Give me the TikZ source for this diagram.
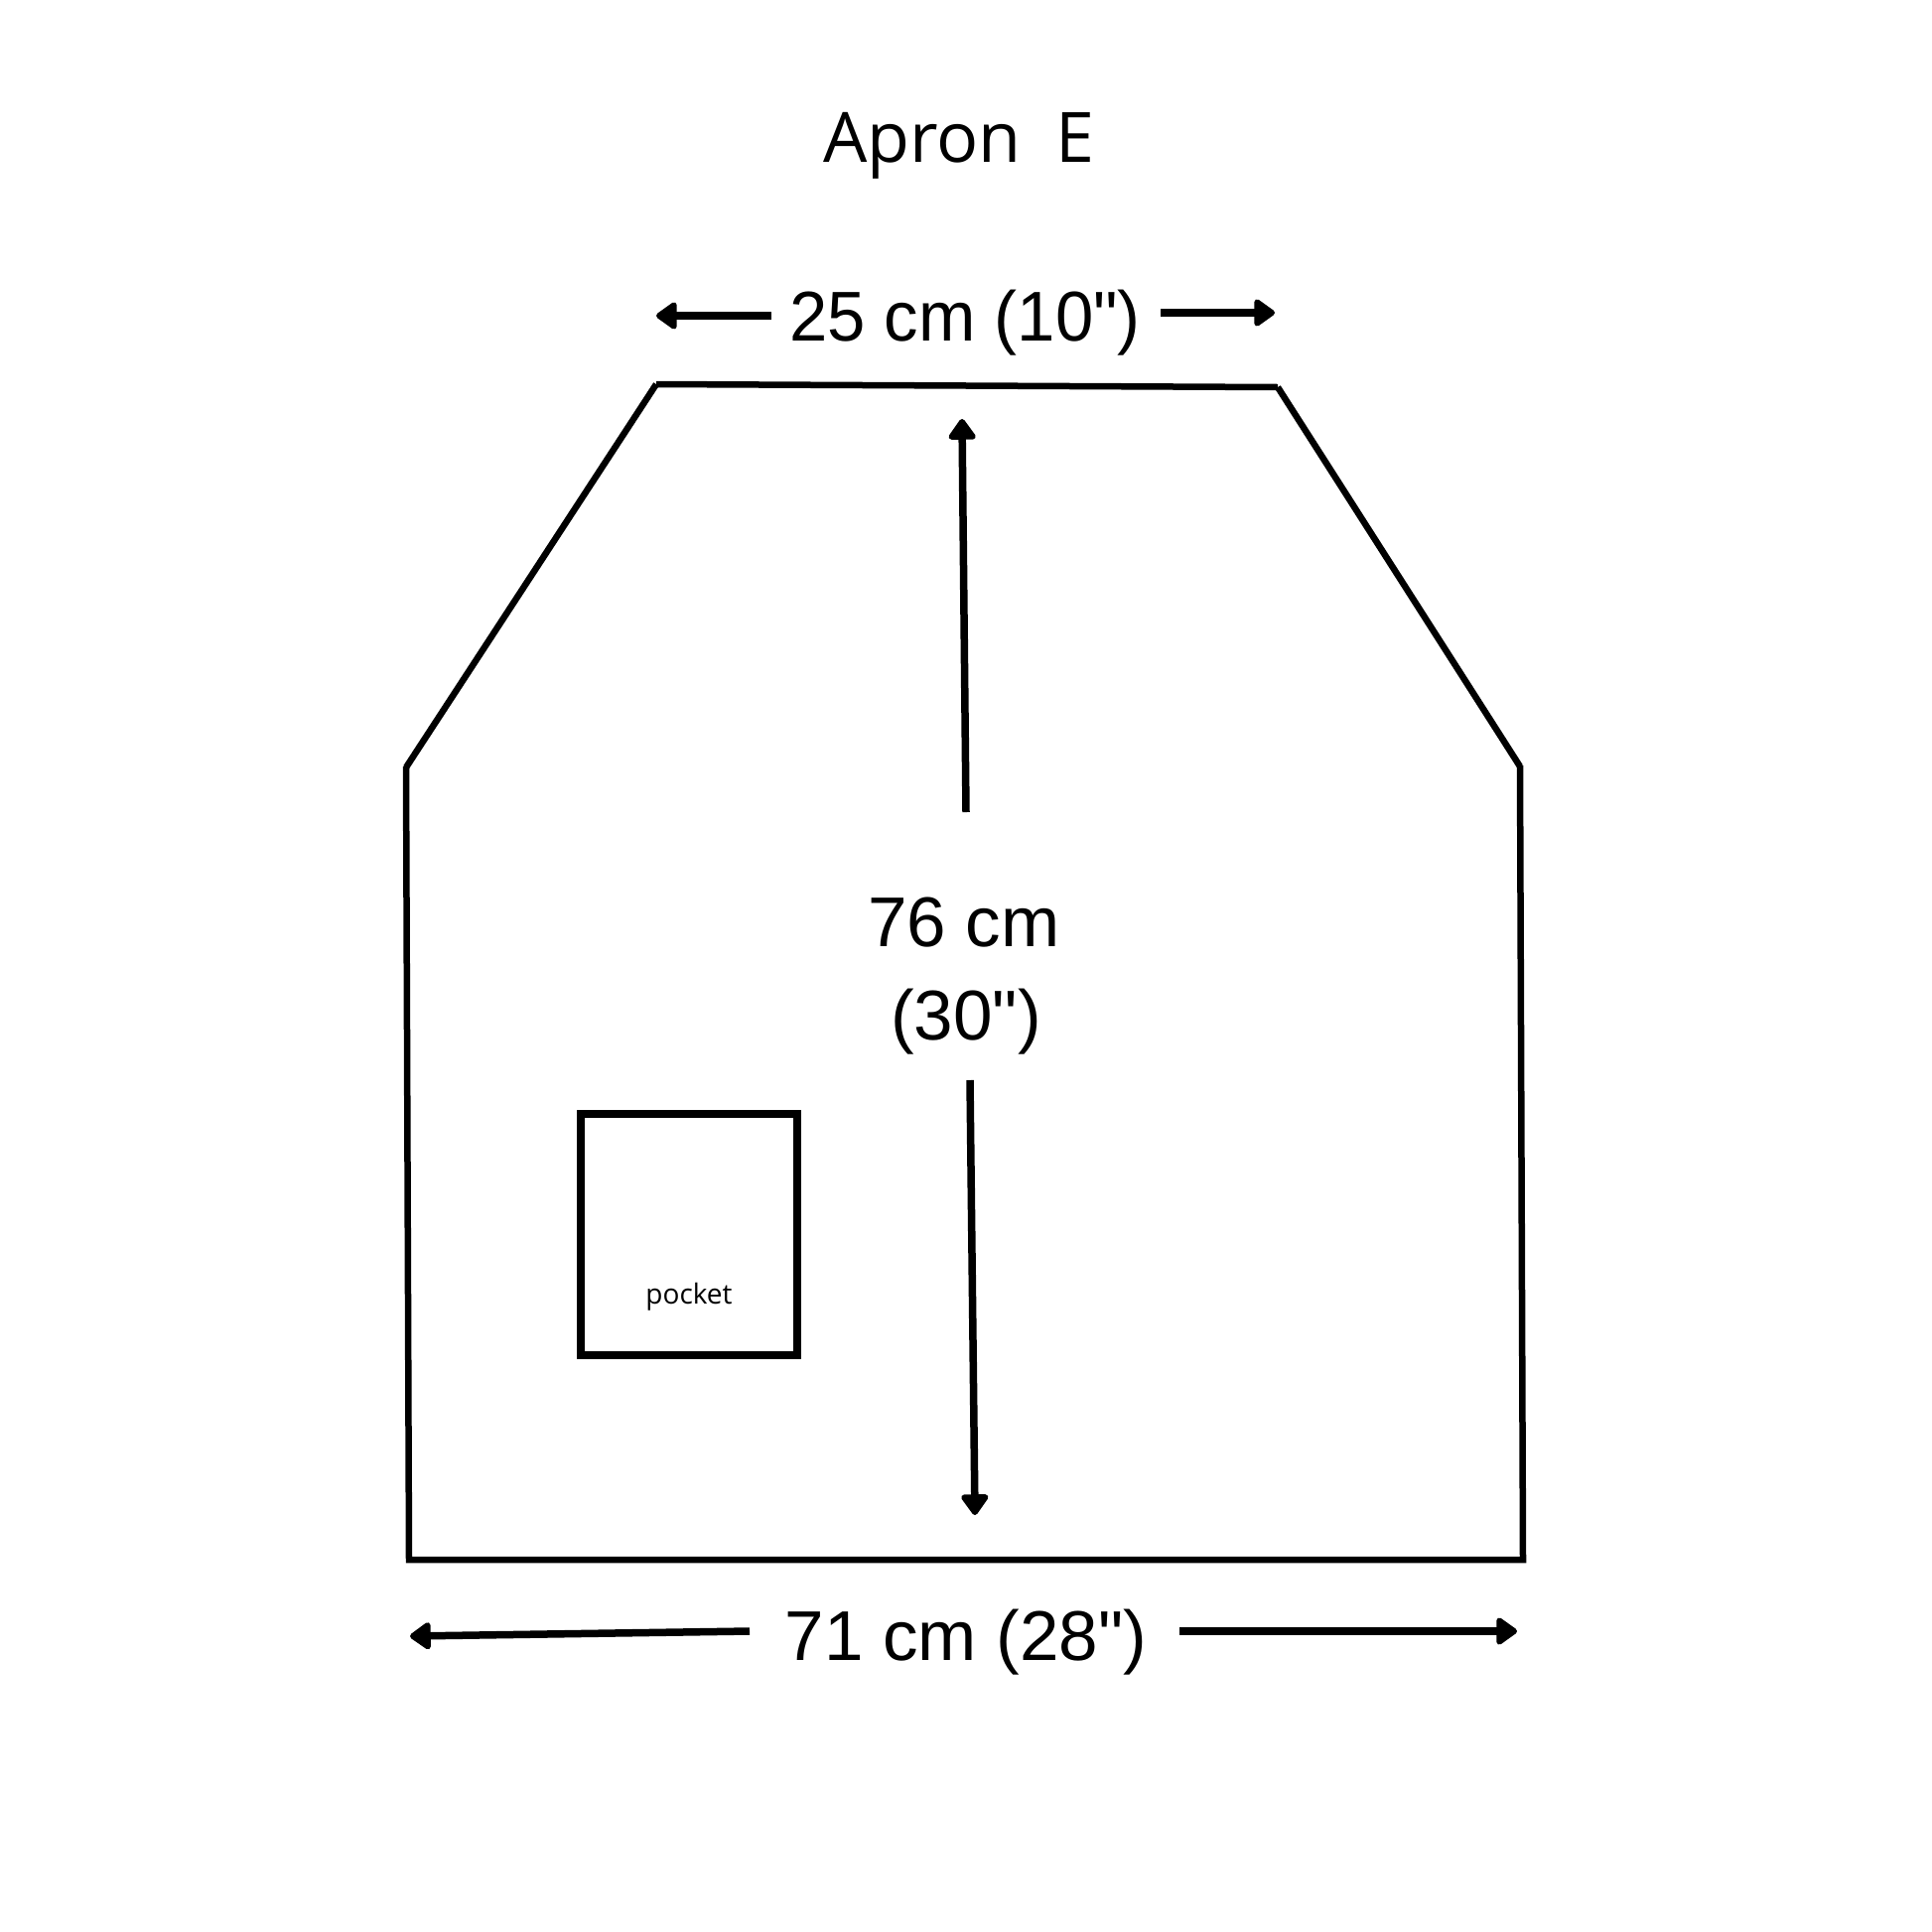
\documentclass[tikz,border=0pt]{standalone}
\usepackage{fontspec}
\setmainfont{Liberation Sans}
\newfontfamily\dimfont{Liberation Sans}
\newfontfamily\titlefont{Open Sans}
\usetikzlibrary{arrows.meta}
\begin{document}
\begin{tikzpicture}[x=1pt,y=-1pt,
  edge/.style={line width=6.5pt, line cap=butt},
  pocketbox/.style={line width=7.5pt},
  dimline/.style={line width=7.5pt, -{Triangle[round,length=23pt,width=31pt]}},
  dimtext/.style={font=\dimfont\fontsize{71}{80}\selectfont, anchor=base, inner sep=0pt},
  titletext/.style={font=\titlefont\fontsize{70}{80}\selectfont, anchor=base, inner sep=0pt},
  smalltext/.style={font=\titlefont\fontsize{28}{32}\selectfont, anchor=base, inner sep=0pt}]
\useasboundingbox[fill=white] (0,0) rectangle (1946,1946);

% apron outline
\coordinate (tl) at (661,387);
\coordinate (tr) at (1287,390);
\coordinate (rs) at (1531,772);
\coordinate (rb) at (1534,1571);
\coordinate (lb) at (412,1571);
\coordinate (ls) at (409,773);
\draw[edge] (tl) -- (tr);
\draw[edge] (tr) -- (rs);
\draw[edge] ([yshift=1pt]rs) -- (rb) -- (lb) -- ([yshift=1pt]ls);
\draw[edge] (ls) -- (tl);

% title
\node[titletext] (title) at (966,163) {Apron\hspace{0.5em}E};

% top dimension
\node[dimtext] (w25) at (972,343) {\scalebox{0.97}[1]{25 cm (10")}};
\coordinate (w25la) at (777,318);
\coordinate (w25lb) at (661,318);
\coordinate (w25ra) at (1169,315);
\coordinate (w25rb) at (1284,315);
\draw[dimline] (w25la) -- (w25lb);
\draw[dimline] (w25ra) -- (w25rb);

% vertical dimension
\node[dimtext] (h76) at (971,953) {76 cm};
\node[dimtext] (h30) at (973,1047) {(30")};
\coordinate (hua) at (973,818);
\coordinate (hub) at (969,422);
\coordinate (hda) at (977,1088);
\coordinate (hdb) at (982,1526);
\draw[dimline] (hua) -- (hub);
\draw[dimline] (hda) -- (hdb);

% bottom dimension
\node[dimtext] (w71) at (973,1672) {71 cm (28")};
\coordinate (w71la) at (755,1643);
\coordinate (w71lb) at (413,1648);
\coordinate (w71ra) at (1188,1643);
\coordinate (w71rb) at (1528,1643);
\draw[dimline] (w71la) -- (w71lb);
\draw[dimline] (w71ra) -- (w71rb);

% pocket
\node[pocketbox, draw, minimum width=218pt, minimum height=243pt, inner sep=0pt] (pocket) at (694,1243.5) {};
\node[smalltext] (pockettext) at (694,1313) {pocket};
\end{tikzpicture}
\end{document}
